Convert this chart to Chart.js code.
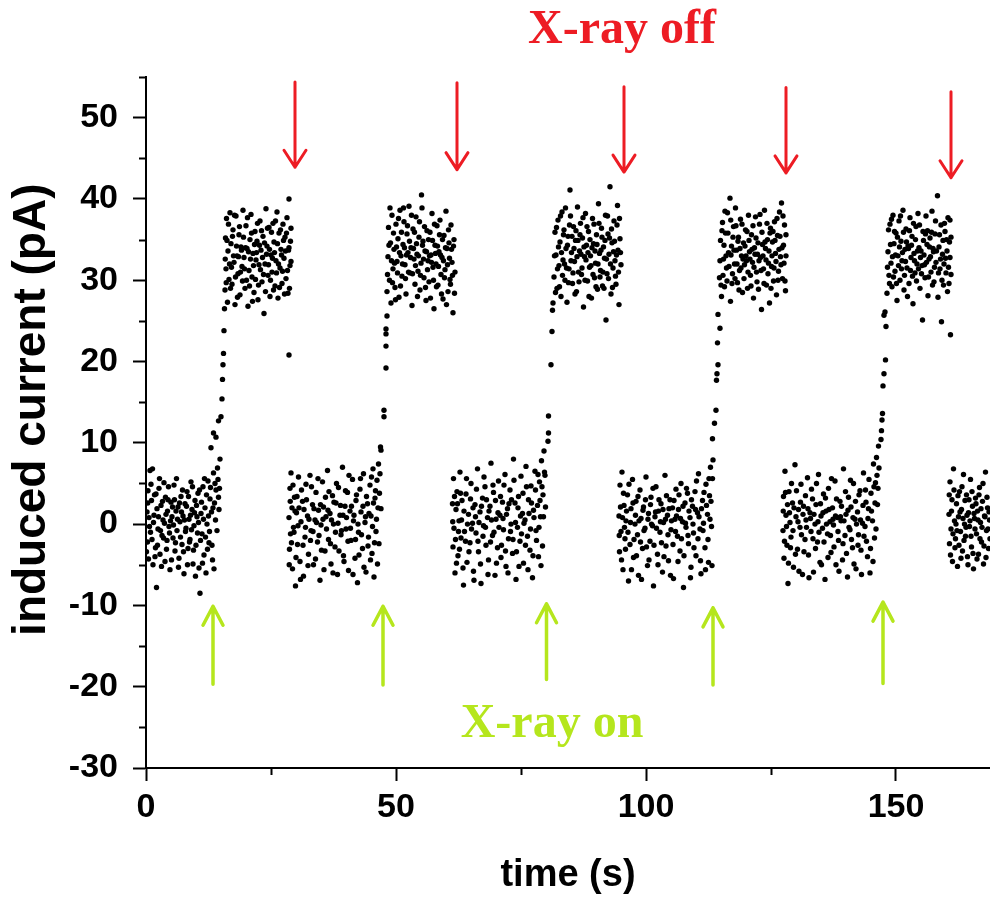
<!DOCTYPE html>
<html>
<head>
<meta charset="utf-8">
<title>induced current vs time</title>
<script src="https://cdn.jsdelivr.net/npm/chart.js@4/dist/chart.umd.min.js"></script>
<style>
  html, body { margin: 0; padding: 0; background: #fff; }
  #wrap { width: 990px; height: 898px; }
</style>
</head>
<body>
<div id="wrap"><canvas id="currentChart" width="990" height="898"></canvas></div>
<script>
// measured current samples [time (s), current (pA)], split by beam state
const offPhase1 = [[0.2,1.5],[0.3,-2.2],[0.4,4.1],[0.5,-4.3],[0.6,0.8],[0.8,6.6],[0.9,-1.0],[1.1,2.9],[1.3,6.8],[1.4,-5.0],[1.5,0.2],[1.7,3.6],[1.9,-2.9],[2.1,-7.8],[2.2,1.9],[2.4,-0.6],[2.6,4.4],[2.8,-3.7],[3.0,2.3],[3.2,-1.4],[3.4,0.5],[3.6,5.1],[3.8,-4.6],[4.0,1.2],[4.2,-2.0],[4.4,3.0],[4.6,-0.3],[4.8,-5.6],[5.0,2.7],[5.2,0.9],[5.4,-1.7],[5.6,4.8],[5.8,-3.3],[6.0,1.6],[6.2,-0.8],[6.4,2.1],[6.6,-4.2],[6.8,0.3],[7.0,3.4],[7.2,-2.5],[7.4,1.0],[7.6,-6.1],[7.8,2.5],[8.0,-0.5],[8.2,4.0],[8.4,-3.0],[8.6,0.6],[8.8,-1.9],[9.0,5.2],[9.2,1.8],[9.4,-4.9],[9.6,-0.2],[9.8,2.9],[10.0,-2.6],[10.2,0.9],[10.4,3.8],[10.6,-5.4],[10.8,-8.5],[11.0,1.3],[11.2,-1.2],[11.4,4.6],[11.6,-3.8],[11.8,2.0],[12.0,-6.0],[12.2,0.0],[12.4,5.3],[12.6,-2.3],[12.8,3.1],[13.0,9.4],[13.1,1.5],[13.3,-4.4],[13.5,6.3],[13.5,11.2],[13.7,2.6],[14.0,10.7],[14.0,4.2],[14.3,6.9],[14.5,3.3],[14.5,12.7],[14.8,8.0],
  [0.1,-3.4],[0.35,2.6],[0.7,-0.3],[1.0,4.9],[1.2,-1.9],[1.6,1.1],[1.8,-4.0],[2.0,3.7],[2.3,-2.6],[2.5,0.9],[2.7,5.6],[2.9,-0.8],[3.1,-5.2],[3.3,2.8],[3.5,-1.7],[3.7,0.1],[3.9,3.3],[4.1,-3.1],[4.3,1.6],[4.5,4.6],[4.7,-1.1],[4.9,0.4],[5.1,-4.4],[5.3,2.1],[5.5,-0.1],[5.7,3.0],[5.9,-2.3],[6.1,5.6],[6.3,0.6],[6.5,-5.3],[6.7,2.6],[6.9,-1.6],[7.1,1.5],[7.3,4.2],[7.5,-3.4],[7.7,0.5],[7.9,-0.9],[8.1,2.2],[8.3,-5.0],[8.5,3.4],[8.7,-2.2],[8.9,1.1],[9.1,-0.7],[9.3,4.6],[9.5,-3.2],[9.7,1.4],[9.9,-6.4],[10.1,2.3],[10.3,-1.1],[10.5,0.2],[10.7,4.2],[10.9,-2.0],[11.1,2.7],[11.3,-4.8],[11.5,0.6],[11.7,5.6],[11.9,-1.6],[12.1,3.6],[12.3,-3.1],[12.5,1.0],[12.7,-0.9],[12.9,4.5],[13.2,-2.6],[13.4,2.0],[13.6,-5.5],[13.8,5.0],[13.9,0.5],[14.2,-0.8],[14.4,5.5],[14.6,1.8],[14.7,4.4]];
const riseEdge1 = [[15.0,13.2],[15.2,15.4],[15.3,17.8],[15.4,19.6],[15.5,21.0],[15.6,23.8],[15.7,26.5]];
const onPhase1 = [[15.8,28.8],[15.9,35.2],[16.0,31.4],[16.1,37.6],[16.3,27.3],[16.4,33.6],[16.6,30.1],[16.8,38.3],[17.0,34.5],[17.2,29.5],[17.4,36.2],[17.6,32.2],[17.8,27.0],[18.0,37.9],[18.2,33.0],[18.4,30.8],[18.6,35.6],[18.8,28.2],[19.0,34.1],[19.2,31.7],[19.4,38.6],[19.6,32.8],[19.8,29.0],[20.0,36.7],[20.2,33.9],[20.4,26.8],[20.6,31.2],[20.8,35.0],[21.0,38.1],[21.2,30.4],[21.4,33.3],[21.6,28.5],[21.8,36.0],[22.0,32.5],[22.2,34.8],[22.4,27.6],[22.6,31.9],[22.8,37.3],[23.0,33.7],[23.2,29.8],[23.4,35.4],[23.6,25.9],[23.8,32.0],[24.0,38.8],[24.2,34.2],[24.4,30.6],[24.6,36.5],[24.8,28.0],[25.0,33.1],[25.2,31.0],[25.4,37.0],[25.6,34.7],[25.8,29.3],[26.0,32.4],[26.2,38.4],[26.4,27.8],[26.6,35.8],[26.8,31.5],[27.0,33.8],[27.2,29.6],[27.4,36.9],[27.6,32.7],[27.8,35.3],[28.0,30.2],[28.2,37.7],[28.4,28.4],[28.6,34.0],[28.6,40.0],[28.8,31.8],[29.0,36.4],[28.6,20.8],
  [15.85,32.6],[16.05,29.7],[16.2,34.9],[16.5,36.9],[16.7,32.0],[16.9,29.0],[17.1,31.6],[17.3,35.4],[17.5,33.0],[17.7,38.0],[17.9,30.4],[18.1,34.2],[18.3,27.9],[18.5,32.9],[18.7,36.6],[18.9,31.0],[19.1,33.7],[19.3,29.9],[19.5,35.3],[19.7,31.4],[19.9,34.0],[20.1,30.0],[20.3,37.7],[20.5,33.5],[20.7,29.3],[20.9,32.6],[21.1,35.8],[21.3,27.4],[21.5,31.8],[21.7,34.4],[21.9,30.1],[22.1,33.4],[22.3,37.0],[22.5,29.4],[22.7,34.3],[22.9,31.3],[23.1,36.1],[23.3,32.8],[23.5,30.7],[23.7,34.6],[23.9,28.6],[24.1,33.2],[24.3,36.4],[24.5,31.9],[24.7,33.8],[24.9,30.0],[25.1,35.9],[25.3,32.7],[25.5,28.8],[25.7,33.4],[25.9,37.3],[26.1,30.9],[26.3,34.5],[26.5,32.0],[26.7,29.1],[26.9,36.2],[27.1,33.1],[27.3,31.1],[27.5,34.9],[27.7,28.3],[27.9,33.6],[28.1,35.8],[28.3,31.2],[28.5,33.7],[28.7,29.0],[28.9,34.8],[29.0,32.3]];
const offPhase2 = [[28.6,0.8],[28.7,-3.1],[28.8,4.4],[28.9,-1.2],[29.0,6.3],[29.2,2.0],[29.3,-5.5],[29.5,-0.4],[29.7,3.3],[29.9,-7.6],[30.1,1.4],[30.3,-2.5],[30.5,5.8],[30.8,-4.6],[31.0,0.3],[31.3,2.8],[31.5,-6.4],[31.8,-1.6],[32.0,4.9],[32.3,1.0],[32.5,-3.7],[32.8,6.0],[33.0,-0.8],[33.3,2.4],[33.5,-5.0],[33.8,0.5],[34.0,3.9],[34.3,-2.2],[34.5,1.7],[34.8,-6.9],[35.0,-0.1],[35.3,5.2],[35.5,2.1],[35.8,-3.3],[36.0,0.9],[36.3,6.6],[36.5,-1.9],[36.8,1.3],[37.0,-4.9],[37.3,3.5],[37.5,0.0],[37.8,-2.8],[38.0,2.6],[38.3,-6.2],[38.5,4.5],[38.8,1.1],[39.0,-1.3],[39.3,7.0],[39.5,-3.9],[39.8,2.2],[40.0,-0.6],[40.3,3.9],[40.5,-5.7],[40.8,1.6],[41.0,-2.0],[41.3,5.5],[41.5,0.4],[41.8,-4.2],[42.0,2.9],[42.3,-7.2],[42.5,-1.0],[42.8,4.3],[43.0,1.5],[43.3,-3.0],[43.5,6.2],[43.8,0.2],[44.0,-5.9],[44.3,2.5],[44.5,-1.6],[44.8,4.8],[45.0,1.0],[45.2,-3.6],[45.4,6.8],[45.6,-6.5],[45.8,3.2],[46.0,-0.9],[46.2,5.4],[46.4,2.0],[46.5,7.4],[46.6,-2.4],[46.8,6.2],[46.9,9.5],[47.0,9.1],
  [28.65,-5.0],[28.85,2.8],[29.1,-2.3],[29.4,4.8],[29.6,-1.0],[29.8,1.6],[30.0,-4.1],[30.2,3.4],[30.4,-0.2],[30.6,2.0],[30.9,-6.8],[31.1,4.2],[31.4,-2.6],[31.6,1.8],[31.9,-0.4],[32.1,3.0],[32.4,-5.1],[32.6,0.6],[32.9,-2.0],[33.1,4.6],[33.4,-0.9],[33.6,1.9],[33.9,-4.3],[34.1,0.2],[34.4,5.6],[34.6,-1.4],[34.9,2.4],[35.1,-3.2],[35.4,0.6],[35.6,-5.6],[35.9,3.3],[36.1,-0.6],[36.4,1.7],[36.6,4.0],[36.9,-2.4],[37.1,0.5],[37.4,-6.0],[37.6,2.7],[37.9,-1.0],[38.1,5.0],[38.4,0.1],[38.6,-3.3],[38.9,2.3],[39.1,-0.8],[39.4,1.1],[39.6,-4.6],[39.9,4.1],[40.1,0.8],[40.4,-2.1],[40.6,6.0],[40.9,-0.5],[41.1,2.2],[41.4,-6.2],[41.6,1.1],[41.9,-1.9],[42.1,3.6],[42.4,0.0],[42.6,-3.8],[42.9,5.6],[43.1,-1.3],[43.4,2.2],[43.6,-5.3],[43.9,0.9],[44.1,3.4],[44.4,-2.7],[44.6,1.3],[44.9,-4.4],[45.1,5.8],[45.3,-0.3],[45.5,2.6],[45.7,-2.3],[45.9,4.1],[46.1,0.6],[46.3,-4.9],[46.7,3.8],[47.0,1.9]];
const riseEdge2 = [[47.6,13.2],[47.6,14.0],[48.0,19.2],[48.0,21.9],[48.0,23.4],[48.0,24.0],[48.2,25.6]];
const onPhase2 = [[48.2,28.6],[48.4,32.9],[48.5,36.5],[48.7,30.0],[48.9,34.6],[49.0,27.2],[49.2,38.0],[49.4,31.4],[49.6,33.8],[49.8,29.1],[50.0,36.9],[50.2,32.3],[50.4,35.1],[50.6,27.9],[50.8,38.6],[51.0,33.0],[51.2,30.5],[51.4,34.4],[51.6,37.2],[51.8,31.9],[52.0,28.3],[52.2,35.7],[52.4,33.4],[52.6,39.1],[52.8,30.9],[53.0,34.0],[53.2,26.9],[53.4,36.3],[53.6,32.6],[53.8,29.5],[54.0,37.8],[54.2,33.2],[54.4,31.1],[54.6,35.3],[54.8,28.8],[55.1,40.5],[55.0,32.1],[55.2,38.9],[55.4,34.8],[55.6,30.3],[55.8,33.6],[56.0,27.5],[56.2,36.1],[56.4,32.4],[56.6,29.8],[56.8,35.9],[57.0,33.1],[57.2,38.2],[57.4,31.6],[57.6,26.5],[57.8,34.3],[58.0,32.0],[58.2,36.7],[58.4,29.4],[58.6,33.5],[58.8,37.4],[59.0,30.7],[59.2,32.8],[59.4,27.7],[59.6,35.5],[59.8,31.3],[60.0,38.5],[60.2,33.9],[60.4,28.6],[60.6,34.6],[60.8,30.1],[61.0,36.8],[61.2,32.2],[61.4,26.0],[61.6,35.0],[61.8,31.0],
  [48.3,30.7],[48.6,34.3],[48.8,38.9],[49.1,32.4],[49.3,29.7],[49.5,35.8],[49.7,32.1],[49.9,27.6],[50.1,34.1],[50.3,30.9],[50.5,37.6],[50.7,33.4],[50.9,29.3],[51.1,35.9],[51.3,32.0],[51.5,38.9],[51.7,34.0],[51.9,30.2],[52.1,33.1],[52.3,36.7],[52.5,31.0],[52.7,34.8],[52.9,32.8],[53.1,38.0],[53.3,30.8],[53.5,33.9],[53.7,35.9],[53.9,31.8],[54.1,34.5],[54.3,28.0],[54.5,33.0],[54.7,37.2],[54.9,30.6],[55.3,34.3],[55.5,32.6],[55.7,36.6],[55.9,29.1],[56.1,33.5],[56.3,31.3],[56.5,35.0],[56.7,33.0],[56.9,27.8],[57.1,32.2],[57.3,34.9],[57.5,30.0],[57.7,36.9],[57.9,33.3],[58.1,29.2],[58.3,34.2],[58.5,31.7],[58.7,35.6],[58.9,33.1],[59.1,28.3],[59.3,35.0],[59.5,32.4],[59.7,30.3],[59.9,34.0],[60.1,27.0],[60.3,31.9],[60.5,36.2],[60.7,32.7],[60.9,29.5],[61.1,33.8],[61.3,30.6],[61.5,34.2],[61.7,28.4]];
const offPhase3 = [[61.3,2.5],[61.4,-2.8],[61.5,5.6],[61.6,-0.5],[61.8,-6.0],[62.0,1.8],[62.2,4.0],[62.4,-3.9],[62.6,0.4],[62.8,6.4],[63.0,-1.7],[63.2,2.9],[63.5,-7.5],[63.7,-0.9],[64.0,3.7],[64.2,-4.7],[64.5,1.2],[64.8,-2.3],[65.0,5.0],[65.3,0.1],[65.5,-5.8],[65.8,2.4],[66.0,-1.1],[66.3,6.8],[66.5,-3.4],[66.8,1.5],[67.0,-7.3],[67.3,3.2],[67.5,-0.2],[67.8,4.6],[68.0,-2.6],[68.3,0.8],[68.5,-4.4],[68.8,2.2],[69.0,7.5],[69.3,-1.4],[69.5,3.9],[69.8,-6.3],[70.0,0.6],[70.3,-2.9],[70.5,5.3],[70.8,1.1],[71.0,-4.1],[71.3,2.7],[71.5,-0.7],[71.8,6.1],[72.0,-5.2],[72.3,1.9],[72.5,-1.8],[72.8,4.2],[73.0,0.0],[73.3,-3.6],[73.5,8.0],[73.8,2.6],[74.0,-6.8],[74.3,-0.4],[74.5,3.4],[74.8,-2.1],[75.0,5.9],[75.3,1.3],[75.5,-4.8],[75.8,0.5],[76.0,7.1],[76.3,-1.5],[76.5,3.0],[76.8,-3.2],[77.0,4.7],[77.3,-6.6],[77.5,1.7],[77.8,6.5],[78.0,-0.8],[78.3,2.3],[78.5,-4.0],[78.7,5.2],[78.9,0.9],[79.1,7.8],[79.3,-2.7],[79.4,3.6],[79.6,9.0],[79.8,6.0],
  [61.35,0.3],[61.7,3.4],[61.9,-1.9],[62.1,-4.8],[62.3,2.5],[62.5,-0.9],[62.7,-3.1],[62.9,3.8],[63.1,0.5],[63.4,-5.4],[63.6,1.6],[63.9,-2.1],[64.1,5.6],[64.3,0.0],[64.6,-3.4],[64.9,3.1],[65.1,-0.6],[65.4,2.0],[65.6,-6.9],[65.9,0.9],[66.1,4.3],[66.4,-2.1],[66.6,0.2],[66.9,-4.9],[67.1,2.2],[67.4,-1.5],[67.6,5.8],[67.9,-0.4],[68.1,3.0],[68.4,-6.2],[68.6,1.6],[68.9,-2.2],[69.1,0.5],[69.4,4.8],[69.6,-1.0],[69.9,2.9],[70.1,-4.8],[70.4,1.4],[70.6,-0.4],[70.9,3.4],[71.1,-2.6],[71.4,0.7],[71.6,4.8],[71.9,-3.3],[72.1,1.2],[72.4,-6.0],[72.6,2.5],[72.9,-0.9],[73.1,3.0],[73.4,-1.9],[73.6,5.4],[73.9,0.2],[74.1,-3.4],[74.4,2.0],[74.6,-5.2],[74.9,1.0],[75.1,-1.2],[75.4,3.8],[75.6,0.1],[75.9,-2.6],[76.1,4.6],[76.4,-5.6],[76.6,1.3],[76.9,-0.6],[77.1,2.6],[77.4,-3.9],[77.6,0.8],[77.9,4.2],[78.1,-2.0],[78.4,6.1],[78.6,-0.4],[78.8,2.9],[79.0,-5.1],[79.2,4.6],[79.5,0.9],[79.7,6.4],[79.9,2.1]];
const riseEdge3 = [[80.4,10.2],[80.5,11.2],[80.5,13.3],[81.0,19.6],[81.2,23.7],[81.3,26.3],[81.4,27.2]];
const onPhase3 = [[81.6,30.4],[81.8,35.9],[82.0,33.1],[82.2,29.0],[82.4,37.4],[82.6,31.8],[82.8,34.7],[83.0,28.0],[83.2,38.4],[83.4,32.5],[83.6,36.2],[83.8,30.0],[84.0,33.9],[84.2,27.3],[84.4,35.4],[84.8,41.1],[84.6,31.4],[84.9,37.9],[85.1,33.4],[85.3,29.6],[85.5,36.6],[85.7,32.3],[85.9,34.9],[86.1,28.6],[86.3,39.0],[86.5,31.0],[86.7,33.6],[86.9,37.0],[87.1,30.7],[87.3,35.2],[87.5,26.7],[87.7,32.9],[87.9,38.2],[88.1,34.3],[88.3,29.9],[88.5,36.0],[88.7,31.6],[88.9,33.0],[89.1,27.8],[89.3,37.6],[89.5,34.5],[89.7,30.3],[89.9,32.1],[90.1,35.6],[90.3,28.9],[90.5,39.4],[90.7,33.3],[90.9,31.2],[91.1,36.4],[91.3,29.3],[91.5,34.1],[91.7,32.7],[91.9,38.0],[92.0,25.1],[92.2,30.8],[92.4,35.7],[92.6,33.2],[92.8,41.5],[93.0,28.3],[93.2,34.6],[93.4,31.5],[93.6,37.3],[93.8,32.4],[94.0,29.5],[94.2,36.8],[94.4,33.7],[94.6,27.0],[94.8,35.1],[95.0,31.9],[94.3,39.2],
  [81.7,33.0],[81.9,28.5],[82.1,36.5],[82.3,31.4],[82.5,34.1],[82.7,29.2],[82.9,37.9],[83.1,33.4],[83.3,30.6],[83.5,35.6],[83.7,32.0],[83.9,38.9],[84.1,31.5],[84.3,34.3],[84.5,29.7],[84.7,36.8],[85.0,32.4],[85.2,35.4],[85.4,30.9],[85.6,33.9],[85.8,28.3],[86.0,36.1],[86.2,32.9],[86.4,34.9],[86.6,29.8],[86.8,35.6],[87.0,33.2],[87.2,31.5],[87.4,37.7],[87.6,34.1],[87.8,30.0],[88.0,32.5],[88.2,36.6],[88.4,33.4],[88.6,28.0],[88.8,35.0],[89.0,31.8],[89.2,34.0],[89.4,30.7],[89.6,36.9],[89.8,33.6],[90.0,29.2],[90.2,34.4],[90.4,32.0],[90.6,37.0],[90.8,30.4],[91.0,33.7],[91.2,35.3],[91.4,31.0],[91.6,29.0],[91.8,34.9],[92.1,32.6],[92.3,37.9],[92.5,30.2],[92.7,35.2],[92.9,32.0],[93.1,36.3],[93.3,29.1],[93.5,33.5],[93.7,34.8],[93.9,30.5],[94.1,33.1],[94.5,31.0],[94.7,37.6],[94.9,33.4]];
const offPhase4 = [[94.6,1.0],[94.7,-3.4],[94.8,4.8],[95.0,-0.9],[95.2,6.4],[95.4,-5.6],[95.6,2.3],[95.8,-1.8],[96.0,0.4],[96.3,3.6],[96.5,-7.0],[96.8,-2.5],[97.0,1.9],[97.3,5.5],[97.5,-4.1],[97.8,0.0],[98.0,2.8],[98.3,-1.3],[98.5,-6.3],[98.8,4.2],[99.0,0.7],[99.3,-3.0],[99.5,2.1],[99.8,-0.5],[100.0,5.8],[100.3,-5.1],[100.5,1.3],[100.8,-2.1],[101.0,3.3],[101.3,-0.2],[101.5,-7.6],[101.8,0.9],[102.0,4.6],[102.3,-3.7],[102.5,1.6],[102.8,-1.0],[103.0,2.5],[103.3,-5.9],[103.5,0.2],[103.8,6.0],[104.0,-2.7],[104.3,1.1],[104.5,-4.5],[104.8,3.0],[105.0,-0.7],[105.3,2.0],[105.5,-6.7],[105.8,0.6],[106.0,4.3],[106.3,-1.5],[106.5,1.8],[106.8,-3.3],[107.0,5.0],[107.3,0.3],[107.5,-7.8],[107.8,2.6],[108.0,-0.4],[108.3,3.8],[108.5,-2.4],[108.8,0.8],[109.0,-5.3],[109.3,2.2],[109.5,-1.1],[109.8,4.0],[110.0,-3.9],[110.3,1.4],[110.5,6.2],[110.8,-0.6],[111.0,-6.1],[111.3,2.9],[111.5,0.1],[111.8,-2.9],[112.0,4.9],[112.3,1.2],[112.5,-4.7],[112.7,3.5],[112.9,7.0],[113.1,-0.3],[113.3,5.6],[113.4,7.9],
  [94.65,-1.4],[94.9,2.1],[95.1,-4.4],[95.3,0.8],[95.5,3.8],[95.7,-0.4],[95.9,-3.1],[96.1,1.6],[96.4,-1.0],[96.6,4.9],[96.9,0.2],[97.1,-5.6],[97.4,2.6],[97.6,-1.9],[97.9,1.1],[98.1,-3.9],[98.4,3.4],[98.6,0.4],[98.9,-2.2],[99.1,-6.8],[99.4,1.7],[99.6,-0.8],[99.9,3.0],[100.1,-2.8],[100.4,0.6],[100.6,-4.4],[100.9,2.4],[101.1,0.0],[101.4,4.4],[101.6,-2.6],[101.9,1.5],[102.1,-0.5],[102.4,-5.0],[102.6,3.0],[102.9,0.3],[103.1,-2.3],[103.4,1.8],[103.6,-4.0],[103.9,0.6],[104.1,3.5],[104.4,-1.3],[104.6,1.9],[104.9,-6.3],[105.1,0.4],[105.4,-2.5],[105.6,2.9],[105.9,-0.9],[106.1,1.0],[106.4,-4.6],[106.6,3.6],[106.9,0.7],[107.1,-1.8],[107.4,2.2],[107.6,-3.9],[107.9,0.1],[108.1,4.4],[108.4,-1.4],[108.6,1.6],[108.9,-6.6],[109.1,3.0],[109.4,0.0],[109.6,-2.9],[109.9,1.8],[110.1,5.3],[110.4,-1.8],[110.6,0.9],[110.9,-4.5],[111.1,1.9],[111.4,-0.8],[111.6,3.9],[111.9,-5.6],[112.1,2.3],[112.4,-1.9],[112.6,5.6],[112.8,0.6],[113.0,2.8],[113.2,-5.1]];
const riseEdge4 = [[113.3,10.5],[113.7,12.4],[114.0,14.0],[114.1,17.7],[114.2,18.5],[114.4,19.6],[114.3,22.3],[114.8,24.1],[114.4,25.8]];
const onPhase4 = [[114.7,30.3],[114.9,34.9],[115.1,28.0],[115.3,37.1],[115.5,32.6],[115.7,29.2],[115.9,35.8],[116.1,31.5],[116.3,38.3],[116.5,33.4],[116.8,40.1],[116.9,27.4],[117.1,34.2],[117.3,30.8],[117.5,36.6],[117.7,32.0],[117.9,38.9],[118.1,33.7],[118.3,29.7],[118.5,35.3],[118.7,31.2],[118.9,37.5],[119.1,33.0],[119.3,28.5],[119.5,34.6],[119.7,31.9],[119.9,36.2],[120.1,32.4],[120.3,29.0],[120.5,38.0],[120.7,33.5],[120.9,30.6],[121.1,35.6],[121.3,32.2],[121.5,27.8],[121.7,34.0],[121.9,37.8],[122.1,31.0],[122.3,33.2],[122.5,28.9],[122.7,36.9],[122.9,32.8],[123.1,26.4],[123.3,34.4],[123.5,31.4],[123.7,38.6],[123.9,33.9],[124.1,29.4],[124.3,35.0],[124.5,32.1],[124.7,27.2],[124.9,36.4],[125.1,31.7],[125.3,34.7],[125.5,29.9],[125.7,37.2],[125.9,33.3],[126.1,28.2],[126.3,35.5],[126.5,31.1],[126.7,38.4],[126.9,32.9],[127.1,39.5],[127.3,30.2],[127.5,34.3],[127.7,36.8],[127.9,28.7],[128.0,33.0],
  [114.8,32.4],[115.0,29.4],[115.2,36.1],[115.4,30.6],[115.6,34.3],[115.8,38.5],[116.0,33.0],[116.2,29.9],[116.4,35.8],[116.6,31.7],[116.95,37.4],[117.0,33.1],[117.2,29.6],[117.4,35.3],[117.6,33.7],[117.8,30.2],[118.0,36.7],[118.2,32.0],[118.4,34.8],[118.6,28.8],[118.8,33.9],[119.0,31.5],[119.2,36.9],[119.4,32.6],[119.6,30.2],[119.8,34.2],[120.0,33.0],[120.2,36.0],[120.4,31.0],[120.6,34.9],[120.8,32.6],[121.0,29.3],[121.2,33.8],[121.4,36.7],[121.6,31.6],[121.8,33.2],[122.0,35.2],[122.2,29.8],[122.4,34.6],[122.6,32.4],[122.8,38.1],[123.0,31.2],[123.2,35.9],[123.4,33.0],[123.6,29.6],[123.8,34.7],[124.0,32.5],[124.2,37.0],[124.4,30.8],[124.6,33.6],[124.8,35.8],[125.0,29.0],[125.2,33.0],[125.4,36.0],[125.6,31.5],[125.8,34.9],[126.0,32.3],[126.2,37.6],[126.4,30.0],[126.6,33.8],[126.8,35.4],[127.0,31.9],[127.2,34.0],[127.4,37.9],[127.6,32.1],[127.8,29.9],[128.0,35.6]];
const offPhase5 = [[127.4,-0.8],[127.5,3.4],[127.6,-4.2],[127.8,6.5],[128.0,1.1],[128.2,-2.6],[128.4,-7.3],[128.6,4.0],[128.8,0.2],[129.0,-1.6],[129.3,2.6],[129.5,-5.3],[129.8,7.3],[130.0,0.9],[130.3,-3.1],[130.5,1.8],[130.8,-0.4],[131.0,4.9],[131.3,-6.2],[131.5,2.2],[131.8,-1.9],[132.0,0.5],[132.3,5.7],[132.5,-3.8],[132.8,1.4],[133.0,-0.9],[133.3,3.1],[133.5,-5.9],[133.8,0.0],[134.0,2.4],[134.3,-2.2],[134.5,6.1],[134.8,-4.7],[135.0,1.0],[135.3,-0.5],[135.5,3.7],[135.8,-6.8],[136.0,1.6],[136.3,-1.2],[136.5,4.4],[136.8,0.3],[137.0,-3.5],[137.3,2.0],[137.5,-0.1],[137.8,5.3],[138.0,-5.0],[138.3,0.8],[138.5,-2.0],[138.8,2.8],[139.0,0.4],[139.3,-4.4],[139.5,6.8],[139.8,-1.4],[140.0,1.2],[140.3,-6.5],[140.5,3.3],[140.8,-0.7],[141.0,2.1],[141.3,-2.9],[141.5,5.0],[141.8,0.6],[142.0,-5.5],[142.3,1.5],[142.5,-1.3],[142.8,4.1],[143.0,-3.2],[143.3,0.1],[143.5,6.3],[143.8,-0.3],[144.0,2.7],[144.3,-4.0],[144.5,1.9],[144.8,-6.0],[145.0,3.8],[145.3,0.4],[145.5,7.4],[145.7,-1.7],[145.9,5.1],[146.1,8.2],[146.3,2.4],[146.5,9.6],[146.6,6.9],
  [127.45,1.6],[127.7,-2.1],[127.9,3.9],[128.1,-0.3],[128.3,2.4],[128.5,-4.8],[128.7,1.4],[128.9,-2.9],[129.1,5.0],[129.4,-0.8],[129.6,2.0],[129.9,-3.7],[130.1,4.1],[130.4,0.3],[130.6,-5.8],[130.9,2.7],[131.1,-1.3],[131.4,1.2],[131.6,-3.4],[131.9,3.5],[132.1,-0.4],[132.4,1.9],[132.6,-6.6],[132.9,0.7],[133.1,4.3],[133.4,-1.8],[133.6,1.2],[133.9,-3.0],[134.1,5.0],[134.4,0.3],[134.6,-1.0],[134.9,2.5],[135.1,-5.0],[135.4,1.4],[135.6,-2.2],[135.9,3.2],[136.1,0.0],[136.4,-4.1],[136.6,1.8],[136.9,-1.4],[137.1,5.6],[137.4,0.6],[137.6,-2.8],[137.9,1.0],[138.1,3.1],[138.4,-0.9],[138.6,-5.8],[138.9,0.9],[139.1,2.2],[139.4,-2.4],[139.6,0.4],[139.9,4.0],[140.1,-3.6],[140.4,1.7],[140.6,-0.4],[140.9,5.4],[141.1,-1.9],[141.4,0.8],[141.6,-4.9],[141.9,2.8],[142.1,0.0],[142.4,-2.6],[142.6,3.6],[142.9,0.5],[143.1,-6.2],[143.4,2.3],[143.6,-1.5],[143.9,4.2],[144.1,-2.1],[144.4,0.7],[144.6,5.5],[144.9,-3.0],[145.1,1.6],[145.4,-4.6],[145.6,4.6],[145.8,2.6],[146.0,-0.6],[146.2,6.0],[146.4,4.4]];
const riseEdge5 = [[147.0,10.4],[147.1,11.5],[147.2,12.8],[147.3,13.6],[147.4,17.0],[147.6,18.5],[147.9,20.2],[148.0,24.3],[147.6,25.7],[147.8,26.1]];
const onPhase5 = [[148.2,28.4],[148.4,33.5],[148.6,30.6],[148.8,36.9],[149.0,32.1],[149.2,29.2],[149.4,38.0],[149.6,34.5],[149.8,31.1],[150.0,35.8],[150.2,27.5],[150.4,33.0],[150.6,37.3],[150.8,30.0],[151.0,34.8],[151.2,32.4],[151.4,38.6],[151.6,28.8],[151.8,33.8],[152.0,36.3],[152.2,31.5],[152.4,34.2],[152.6,29.6],[152.8,37.7],[153.0,32.8],[153.2,35.4],[153.4,27.1],[153.6,33.3],[153.8,30.9],[154.0,36.6],[154.2,32.0],[154.4,38.2],[154.6,34.0],[154.8,29.0],[155.0,33.6],[155.3,25.1],[155.2,31.8],[155.4,36.0],[155.6,33.1],[155.8,30.3],[156.0,37.9],[156.2,34.4],[156.4,28.1],[156.6,32.6],[156.8,35.2],[157.0,31.0],[157.2,38.5],[157.4,33.9],[157.6,29.8],[157.8,35.7],[158.0,32.2],[158.3,40.4],[158.4,27.9],[158.6,34.1],[158.8,31.4],[159.0,36.8],[159.1,24.9],[159.3,33.2],[159.5,29.4],[159.7,37.0],[159.9,32.7],[160.1,35.0],[160.3,28.6],[160.5,31.6],[160.7,34.7],[160.9,23.3],[160.8,37.4],[161.0,30.7],
  [148.3,31.6],[148.5,36.2],[148.7,29.6],[148.9,34.4],[149.1,37.5],[149.3,32.9],[149.5,30.4],[149.7,36.0],[149.9,33.1],[150.1,29.6],[150.3,35.3],[150.5,31.8],[150.7,34.1],[150.9,37.9],[151.1,31.4],[151.3,33.4],[151.5,35.9],[151.7,30.6],[151.9,32.3],[152.1,34.7],[152.3,28.0],[152.5,33.9],[152.7,36.1],[152.9,31.2],[153.1,34.3],[153.3,30.5],[153.5,37.0],[153.7,32.4],[153.9,35.0],[154.1,29.9],[154.3,33.6],[154.5,31.4],[154.7,36.8],[154.9,32.8],[155.1,30.8],[155.5,34.9],[155.7,31.9],[155.9,35.7],[156.1,32.2],[156.3,36.1],[156.5,30.4],[156.7,34.1],[156.9,32.9],[157.1,35.9],[157.3,29.4],[157.5,33.5],[157.7,31.6],[157.9,37.3],[158.1,33.6],[158.5,30.9],[158.7,35.6],[158.9,32.6],[159.2,30.0],[159.4,34.9],[159.6,32.0],[159.8,36.0],[160.0,30.9],[160.2,33.6],[160.4,37.7],[160.6,29.6],[160.8,32.8],[161.0,35.3]];
const offPhase6 = [[160.6,1.2],[160.7,-2.4],[160.8,5.2],[161.0,-0.6],[161.2,3.0],[161.3,-4.6],[161.5,6.8],[161.7,0.4],[161.9,-1.8],[162.1,2.5],[162.3,-5.2],[162.5,0.9],[162.7,4.0],[162.9,-0.9],[163.1,1.8],[163.3,-3.3],[163.5,6.1],[163.7,0.0],[163.9,-1.5],[164.1,3.6],[164.3,-4.0],[164.5,1.4],[164.7,-0.3],[164.9,5.5],[165.1,-2.8],[165.3,2.2],[165.5,-5.5],[165.7,0.7],[165.9,3.2],[166.1,-1.2],[166.3,1.6],[166.5,-3.7],[166.7,4.5],[166.9,0.2],[167.1,-2.2],[167.3,2.8],[167.5,-4.9],[167.7,1.0],[167.9,6.4],[168.1,-0.8],[168.3,2.0],[168.5,-3.0],[168.7,0.5],
  [160.65,3.6],[160.9,-3.8],[161.1,1.6],[161.4,-1.2],[161.6,4.2],[161.8,-2.9],[162.0,0.0],[162.2,-0.8],[162.4,3.5],[162.6,-2.6],[162.8,1.5],[163.0,-4.2],[163.2,4.6],[163.4,0.7],[163.6,-2.0],[163.8,2.9],[164.0,-0.4],[164.2,1.1],[164.4,-5.0],[164.6,3.0],[164.8,0.4],[165.0,-1.5],[165.2,4.0],[165.4,-3.6],[165.6,1.3],[165.8,-0.6],[166.0,2.5],[166.2,-4.3],[166.4,0.5],[166.6,3.6],[166.8,-1.8],[167.0,1.9],[167.2,-0.4],[167.4,5.0],[167.6,-2.7],[167.8,0.9],[168.0,-4.1],[168.2,3.3],[168.4,-0.6],[168.6,1.5],[168.8,-1.8]];

// beam switching marks: [time, arrow tail current, arrow tip current]
const beamOffMarks = [[29.8,54.4,43.9],[62.2,54.3,43.6],[95.6,53.8,43.3],[128.0,53.7,43.2],[161.0,53.2,42.6]];
const beamOnMarks = [[13.4,-19.7,-10.1],[47.4,-19.8,-10.1],[80.1,-19.1,-9.8],[113.4,-19.8,-10.3],[147.4,-19.6,-9.6]];
// where the two captions sit: [time, current at text baseline]
const offCaptionAt = [95.2, 59.2];
const onCaptionAt = [81.2, -26.2];

const xTicks = [0, 50, 100, 150];
const xMinorTicks = [25, 75, 125];
const yTicks = [-30, -20, -10, 0, 10, 20, 30, 40, 50];
const yMinorTicks = [-25, -15, -5, 5, 15, 25, 35, 45, 55];

const RED = '#ed1c24';
const GREEN = '#b5e61d';
const SANS = '"Liberation Sans", Arial, sans-serif';
const SERIF = '"Liberation Serif", "Times New Roman", serif';

const samples = [].concat(
  offPhase1, riseEdge1, onPhase1,
  offPhase2, riseEdge2, onPhase2,
  offPhase3, riseEdge3, onPhase3,
  offPhase4, riseEdge4, onPhase4,
  offPhase5, riseEdge5, onPhase5,
  offPhase6
).map(p => ({ x: p[0], y: p[1] }));

// short outward ticks halfway between the labelled ones
const minorTicks = {
  id: 'minorTicks',
  afterDraw(chart) {
    const { ctx, scales: { x, y } } = chart;
    ctx.save();
    ctx.strokeStyle = '#000';
    ctx.lineWidth = 2;
    ctx.beginPath();
    yMinorTicks.forEach(v => {
      const py = Math.round(y.getPixelForValue(v)) + 0.5;
      ctx.moveTo(x.left - 7, py);
      ctx.lineTo(x.left, py);
    });
    xMinorTicks.forEach(v => {
      const px = Math.round(x.getPixelForValue(v)) + 0.5;
      ctx.moveTo(px, y.bottom);
      ctx.lineTo(px, y.bottom + 7);
    });
    ctx.stroke();
    ctx.restore();
  }
};

function drawArrow(ctx, x0, y0, x1, y1, head, halfW) {
  const dir = Math.sign(y1 - y0);
  ctx.beginPath();
  ctx.moveTo(x0, y0);
  ctx.lineTo(x1, y1);
  ctx.moveTo(x1 - halfW, y1 - dir * head);
  ctx.lineTo(x1, y1);
  ctx.lineTo(x1 + halfW, y1 - dir * head);
  ctx.stroke();
}

// arrows and captions marking when the X-ray source is switched
const beamNotes = {
  id: 'beamNotes',
  afterDraw(chart) {
    const { ctx, scales: { x, y } } = chart;
    ctx.save();
    ctx.lineCap = 'round';
    ctx.lineJoin = 'round';

    ctx.strokeStyle = RED;
    ctx.lineWidth = 3;
    beamOffMarks.forEach(m => {
      const px = x.getPixelForValue(m[0]);
      drawArrow(ctx, px, y.getPixelForValue(m[1]), px, y.getPixelForValue(m[2]), 17, 11);
    });

    ctx.strokeStyle = GREEN;
    ctx.lineWidth = 3.5;
    beamOnMarks.forEach(m => {
      const px = x.getPixelForValue(m[0]);
      drawArrow(ctx, px, y.getPixelForValue(m[1]), px, y.getPixelForValue(m[2]), 19, 10);
    });

    ctx.textAlign = 'center';
    ctx.textBaseline = 'alphabetic';
    ctx.font = 'bold 48px ' + SERIF;
    ctx.fillStyle = RED;
    ctx.fillText('X-ray off', x.getPixelForValue(offCaptionAt[0]), y.getPixelForValue(offCaptionAt[1]));
    ctx.fillStyle = GREEN;
    ctx.fillText('X-ray on', x.getPixelForValue(onCaptionAt[0]), y.getPixelForValue(onCaptionAt[1]));
    ctx.restore();
  }
};

const ctx = document.getElementById('currentChart').getContext('2d');
new Chart(ctx, {
  type: 'scatter',
  data: {
    datasets: [{
      label: 'induced current',
      data: samples,
      pointRadius: 2.7,
      pointHoverRadius: 2.7,
      pointBorderWidth: 0,
      backgroundColor: '#000',
      borderColor: '#000'
    }]
  },
  options: {
    responsive: false,
    animation: false,
    layout: { autoPadding: false, padding: { top: 77, left: 0, right: 0, bottom: 0 } },
    plugins: {
      legend: { display: false },
      tooltip: { enabled: false }
    },
    scales: {
      x: {
        type: 'linear',
        min: 0,
        max: 168.8,
        afterBuildTicks: s => { s.ticks = xTicks.map(v => ({ value: v })); },
        afterFit: s => { s.height = 130; },
        border: { display: true, color: '#000', width: 2 },
        grid: { drawOnChartArea: false, drawTicks: true, tickLength: 13, tickColor: '#000', tickWidth: 2 },
        ticks: {
          color: '#000',
          padding: 6,
          maxRotation: 0,
          font: { family: SANS, size: 34, weight: 'bold' }
        },
        title: {
          display: true,
          text: 'time (s)',
          color: '#000',
          padding: { top: 10, bottom: 0 },
          font: { family: SANS, size: 38, weight: 'bold' }
        }
      },
      y: {
        type: 'linear',
        min: -30,
        max: 55,
        afterBuildTicks: s => { s.ticks = yTicks.map(v => ({ value: v })); },
        afterFit: s => { s.width = 146; },
        border: { display: true, color: '#000', width: 2 },
        grid: { drawOnChartArea: false, drawTicks: true, tickLength: 13, tickColor: '#000', tickWidth: 2 },
        ticks: {
          color: '#000',
          padding: 15,
          font: { family: SANS, size: 34, weight: 'bold' }
        },
        title: {
          display: true,
          text: '  induced current (pA)',
          color: '#000',
          padding: { top: 5, bottom: 0 },
          font: { family: SANS, size: 46, weight: 'bold' }
        }
      }
    }
  },
  plugins: [minorTicks, beamNotes]
});
</script>
</body>
</html>
